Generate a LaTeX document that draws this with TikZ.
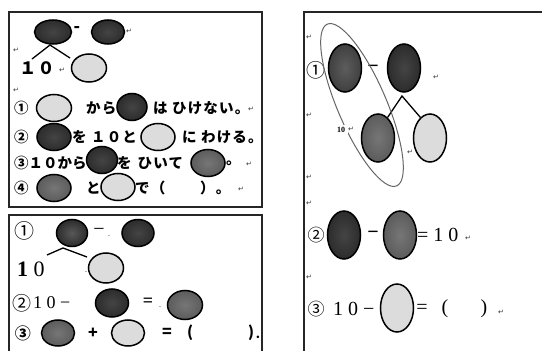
\documentclass[tikz,border=0pt]{standalone}
\usepackage{fontspec}
\usetikzlibrary{shapes.geometric}
\setmainfont{Liberation Serif}
\newfontfamily\jp{Noto Sans CJK JP}
\newfontfamily\jpw{Noto Sans CJK JP}[LetterSpace=8.0]
\newfontfamily\ser{Liberation Serif}
\newfontfamily\dv{DejaVu Sans}
\definecolor{dkin}{HTML}{444444}
\definecolor{dkout}{HTML}{2C2C2C}
\definecolor{mdin}{HTML}{767676}
\definecolor{mdout}{HTML}{5C5C5C}
\definecolor{ltfill}{HTML}{DCDCDC}
\definecolor{ringgray}{HTML}{666666}
\tikzset{
  oval/.style={ellipse, draw=black, line width=1.5pt, inner sep=0pt,
    minimum width=34pt, minimum height=27pt},
  tall/.style={oval, minimum width=33pt, minimum height=48pt},
  dk/.style={inner color=dkin, outer color=dkout},
  md/.style={inner color=mdin, outer color=mdout},
  lt/.style={fill=ltfill},
  boxline/.style={line width=1.8pt, draw=black!85},
  branch/.style={line width=1.3pt},
  jtxt/.style={font=\jpw\bfseries\fontsize{14.5}{15}\selectfont, inner sep=0pt, anchor=west},
  jbig/.style={font=\jp\fontsize{17}{18}\selectfont, inner sep=0pt},
  stxt/.style={font=\ser\fontsize{20}{22}\selectfont, inner sep=0pt},
  ret/.style={font=\dv\fontsize{7}{7}\selectfont, text=black!80, inner sep=0pt},
}
\begin{document}
\begin{tikzpicture}[x=1pt,y=-1pt]
\useasboundingbox (0,0) rectangle (542,351);

% ---------- upper left panel ----------
\draw[boxline] (9,12) rectangle (262,207);
\node[oval,dk,minimum width=37pt,minimum height=24pt] (a1) at (53,32) {};
\node[font=\jp\bfseries\fontsize{17}{17}\selectfont, inner sep=0pt] (a1m) at (77,30) {-};
\node[oval,dk,minimum width=33pt,minimum height=24pt] (a1s) at (108,32) {};
\node[ret] (ra1) at (129,31) {↵};
\node[ret] (ra2) at (16,50) {↵};
\coordinate (a1k) at (50,45);
\coordinate (a1l) at (32,59);
\coordinate (a1r) at (70,58);
\draw[branch] (a1l) -- (a1k) -- (a1r);
\node[font=\jpw\bfseries\fontsize{17}{17}\selectfont, inner sep=0pt] (a1ten) at (37,68) {１０};
\node[ret] (ra3) at (62,70) {↵};
\node[oval,lt,minimum width=35pt,minimum height=28pt] (a1p) at (89,68) {};
\node[ret] (ra4) at (16,90) {↵};

% row 1
\node[jtxt] (q1n) at (14,108) {①};
\node[oval,lt,minimum width=35pt] (q1a) at (54,108) {};
\node[jtxt] (q1t) at (86,108) {から};
\node[oval,dk,minimum width=30pt] (q1b) at (132,107) {};
\node[jtxt] (q1u) at (153,108) {は ひけない。};
\node[ret] (rq1) at (251,109) {↵};
% row 2
\node[jtxt] (q2n) at (14,137) {②};
\node[oval,dk] (q2a) at (54,137) {};
\node[jtxt] (q2t) at (72,137) {を １０と};
\node[oval,lt] (q2b) at (158,137) {};
\node[jtxt] (q2u) at (182,137) {に わける。};
% row 3
\node[jtxt,font=\jp\bfseries\fontsize{14.5}{15}\selectfont] (q3t) at (14,163) {③１０から};
\node[oval,dk,minimum width=31pt] (q3a) at (102,160) {};
\node[jtxt] (q3u) at (117,163) {を\hspace{6pt}ひいて};
\node[oval,md] (q3b) at (208,163) {};
\node[jtxt] (q3v) at (226,163) {。};
\node[ret] (rq3) at (249,164) {↵};
% row 4
\node[jtxt] (q4n) at (14,188) {④};
\node[oval,md] (q4a) at (54,188) {};
\node[jtxt] (q4t) at (86,188) {と};
\node[oval,lt] (q4b) at (118,187) {};
\node[jtxt] (q4u) at (135,188) {で（};
\node[jtxt] (q4v) at (200,188) {）。};
\node[ret] (rq4) at (241,189) {↵};

% ---------- lower left panel ----------
\draw[boxline] (9,351) -- (9,215) -- (262,215) -- (262,351);
\node[jbig,font=\jp\fontsize{20}{20}\selectfont] (b1n) at (25,231) {①};
\node[oval,dk,inner color=dkin!60!mdin,minimum width=31pt,minimum height=27pt] (b1a) at (72,233) {};
\node[stxt] (b1m) at (99,232) {−};
\node[stxt,font=\ser\fontsize{8}{8}\selectfont] (b1d) at (109,236) {.};
\node[oval,dk,minimum width=32pt,minimum height=27pt] (b1b) at (138,233) {};
\coordinate (b1k) at (63,248);
\coordinate (b1l) at (47,255);
\coordinate (b1r) at (87,257);
\draw[branch] (b1l) -- (b1k) -- (b1r);
\node[stxt,font=\ser\fontsize{22}{22}\selectfont,anchor=west] (b1ten) at (17,269) {\textbf{1} 0};
\node[stxt,font=\ser\fontsize{8}{8}\selectfont] (b1e) at (86,272) {.};
\node[oval,lt,minimum width=35pt,minimum height=30pt] (b1p) at (106,268) {};

\node[jbig,font=\jp\fontsize{19}{19}\selectfont] (b2n) at (22,303) {②};
\node[stxt,font=\ser\fontsize{18}{18}\selectfont,anchor=west] (b2t) at (33,303) {1 0 −};
\node[oval,dk,minimum width=33pt,minimum height=28pt] (b2a) at (112,303) {};
\node[stxt,font=\ser\bfseries\fontsize{18}{18}\selectfont] (b2q) at (148,302) {=};
\node[stxt,font=\ser\fontsize{8}{8}\selectfont] (b2d) at (160,307) {.};
\node[oval,md,minimum width=35pt,minimum height=29pt] (b2b) at (185,305) {};

\node[jbig,font=\jp\bfseries\fontsize{16}{16}\selectfont] (b3n) at (23,333) {③};
\node[oval,md,minimum width=33pt,minimum height=26pt] (b3a) at (58,333) {};
\node[jtxt,font=\jp\bfseries\fontsize{16}{16}\selectfont,anchor=center] (b3p) at (93,333) {+};
\node[oval,lt,minimum width=33pt,minimum height=26pt] (b3b) at (128,333) {};
\node[jtxt,font=\jp\bfseries\fontsize{16}{16}\selectfont,anchor=center] (b3q) at (167,333) {=};
\node[jtxt,font=\jp\bfseries\fontsize{15}{16}\selectfont,anchor=center] (b3o) at (190,333) {(};
\node[jtxt,font=\jp\bfseries\fontsize{15}{16}\selectfont,anchor=center] (b3c) at (251,333) {)};
\node[jtxt,font=\jp\bfseries\fontsize{12}{16}\selectfont,anchor=center] (b3e) at (258,337) {.};

% ---------- right panel ----------
\draw[boxline] (542,12) -- (304,12) -- (304,351);
\node[ret] (rc1) at (309,37) {↵};
\node[jbig,font=\jp\fontsize{19}{19}\selectfont] (c1n) at (316,70) {①};
\node[tall,dk,inner color=dkin!50!mdin,outer color=dkout!60!mdout] (c1a) at (345,68) {};
\node[stxt,font=\ser\bfseries\fontsize{20}{22}\selectfont] (c1m) at (373,69) {−};
\node[tall,dk] (c1b) at (404,68) {};
\node[ret] (rc2) at (436,77) {↵};
\node[ret] (rc3) at (309,115) {↵};
\node[tall,md] (c1c) at (378,138) {};
\node[tall,lt] (c1d) at (430,138) {};
\coordinate (c1k) at (402,96);
\draw[branch] (c1c.65) -- (c1k) -- (c1d.115);
\node[ret] (rc4) at (410,152) {↵};
\node[ret] (rc5) at (309,177) {↵};
\draw[ringgray, line width=1pt, rotate around={-66.8:(362,105)}] (362,105) ellipse (88 and 24.5);
\node[fill=white, font=\ser\bfseries\fontsize{8}{8}\selectfont, inner sep=2.5pt] (c10) at (341,130) {10};
\node[ret] (rc6) at (351,129) {↵};

\node[ret] (rc7) at (309,203) {↵};
\node[jbig,font=\jp\fontsize{17}{17}\selectfont] (c2n) at (316,235) {②};
\node[tall,dk] (c2a) at (344,235) {};
\node[stxt,font=\ser\bfseries\fontsize{20}{22}\selectfont] (c2m) at (373,235) {−};
\node[tall,md] (c2b) at (400,235) {};
\node[stxt,anchor=west] (c2t) at (417,235) {= 1 0};
\node[ret] (rc8) at (468,238) {↵};

\node[ret] (rc9) at (309,277) {↵};
\node[jbig,font=\jp\fontsize{17}{17}\selectfont] (c3n) at (316,309) {③};
\node[stxt,anchor=west] (c3t) at (333,309) {1 0 −};
\node[tall,lt] (c3a) at (397,308) {};
\node[stxt] (c3q) at (422,309) {=};
\node[stxt] (c3o) at (445,309) {(};
\node[stxt] (c3c) at (484,309) {)};
\node[ret] (rc10) at (501,312) {↵};
\end{tikzpicture}
\end{document}
